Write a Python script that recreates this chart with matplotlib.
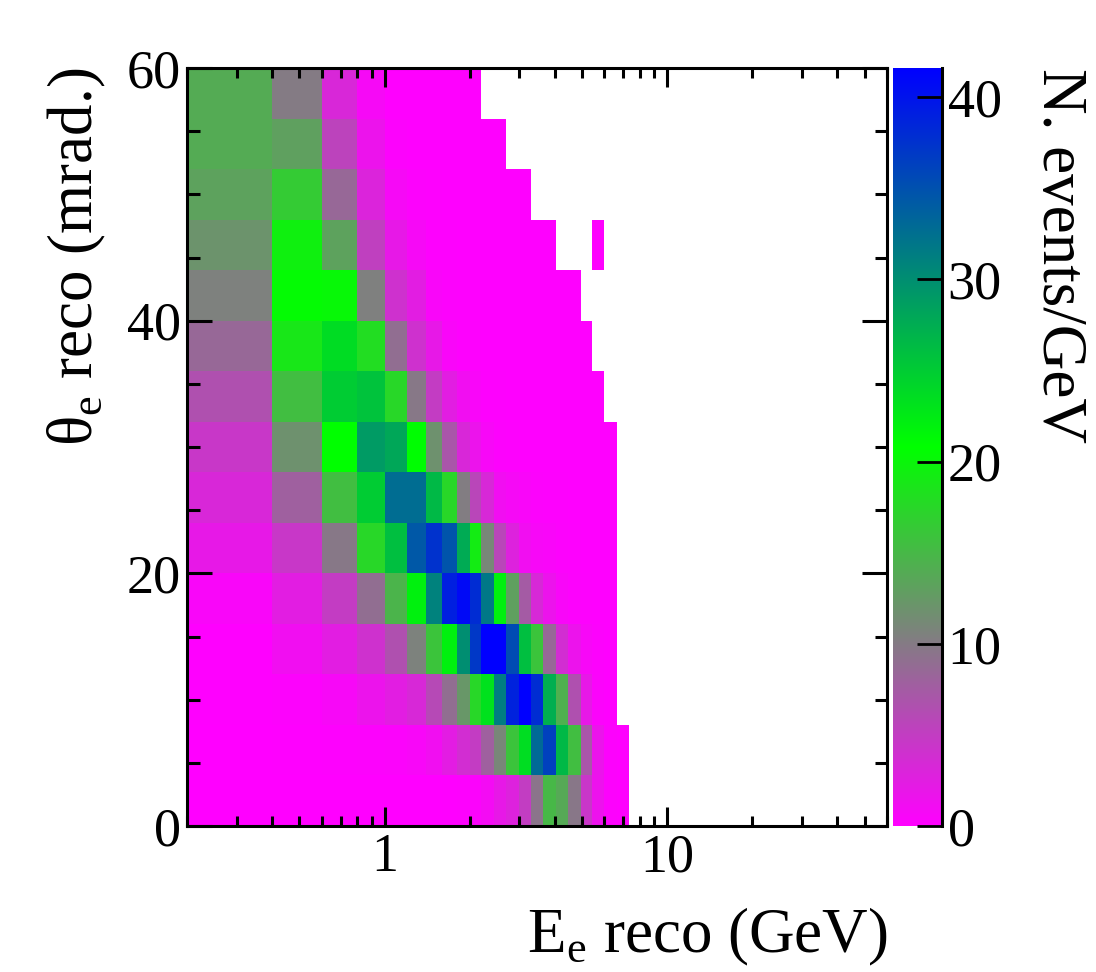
import numpy as np
import matplotlib
matplotlib.use("Agg")
import matplotlib.pyplot as plt
from matplotlib.colors import LinearSegmentedColormap
from matplotlib.ticker import LogLocator, FixedLocator, NullFormatter, FuncFormatter

plt.rcParams['font.family'] = ['Liberation Serif', 'DejaVu Serif']
plt.rcParams['mathtext.fontset'] = 'custom'
plt.rcParams['mathtext.rm'] = 'Liberation Serif'

# bin edges
e_edges = [0.2, 0.4, 0.6, 0.8, 1.0, 1.2, 1.4, 1.6, 1.8, 2.0, 2.2, 2.45, 2.7, 2.98, 3.31,
           3.65, 4.03, 4.47, 4.94, 5.44, 6.0, 6.67, 7.36]
theta_edges = [0, 4, 8, 12, 16, 20, 24, 28, 32, 36, 40, 44, 48, 52, 56, 60]
n = np.nan

# one row per theta bin, bottom to top
row_00 = [0.02, 0.02, 0.02, 0.02, 0.02, 0.03, 0.05, 0.1, 0.2, 0.4, 0.9, 2.0, 2.8, 5.0, 9.5, 15.0, 13.8, 9.7, 4.4, 1.5, 0.3, 0.1]
row_04 = [0.05, 0.1, 0.2, 0.3, 0.4, 0.6, 1.2, 2.3, 3.7, 4.9, 7.8, 11.0, 16.0, 23.6, 33.0, 36.3, 26.5, 15.5, 7.0, 1.7, 0.3, 0.1]
row_08 = [0.1, 0.3, 0.7, 1.6, 2.4, 3.3, 6.0, 9.0, 12.3, 17.5, 23.2, 31.4, 38.8, 41.6, 38.0, 27.3, 14.3, 6.5, 2.0, 0.4, 0.1, n]
row_12 = [0.1, 1.2, 2.4, 4.0, 6.5, 10.6, 16.0, 22.0, 30.0, 37.0, 41.6, 41.6, 35.5, 26.0, 16.0, 8.5, 3.7, 1.6, 0.7, 0.3, 0.1, n]
row_16 = [0.5, 2.4, 4.9, 9.0, 14.7, 22.0, 31.0, 39.0, 40.8, 38.0, 31.8, 22.0, 13.0, 7.4, 3.3, 1.6, 0.6, 0.3, 0.2, 0.1, 0.1, n]
row_20 = [2.0, 4.5, 9.8, 17.5, 26.0, 34.4, 37.5, 34.7, 27.7, 19.2, 11.0, 5.7, 2.8, 1.2, 0.7, 0.5, 0.3, 0.2, 0.1, 0.1, 0.1, n]
row_24 = [3.2, 7.8, 15.5, 25.0, 32.7, 32.7, 26.5, 17.5, 10.2, 5.7, 3.3, 1.2, 0.8, 0.5, 0.3, 0.2, 0.2, 0.1, 0.1, 0.1, 0.1, n]
row_28 = [4.5, 11.8, 20.8, 29.0, 28.0, 21.0, 11.8, 7.0, 3.2, 1.6, 0.7, 0.3, 0.2, 0.1, 0.1, 0.1, 0.1, 0.1, 0.1, 0.1, 0.1, n]
row_32 = [6.5, 15.5, 25.0, 25.7, 17.5, 9.8, 4.9, 2.4, 1.2, 0.5, 0.2, 0.2, 0.1, 0.1, 0.1, 0.1, 0.1, 0.1, 0.1, 0.1, n, n]
row_36 = [8.5, 18.8, 23.7, 18.0, 9.0, 4.0, 2.0, 0.5, 0.2, 0.2, 0.1, 0.1, 0.1, 0.1, 0.1, 0.1, 0.1, 0.1, 0.1, n, n, n]
row_40 = [10.5, 20.4, 20.2, 10.4, 4.0, 2.4, 0.5, 0.3, 0.2, 0.1, 0.1, 0.1, 0.1, 0.1, 0.1, 0.1, 0.1, 0.1, n, n, n, n]
row_44 = [12.0, 19.5, 13.2, 5.2, 2.0, 0.8, 0.2, 0.2, 0.1, 0.1, 0.1, 0.1, 0.1, 0.1, 0.1, 0.1, n, n, n, 0.1, n, n]
row_48 = [13.2, 16.5, 8.5, 3.0, 0.8, 0.3, 0.2, 0.1, 0.1, 0.1, 0.1, 0.1, 0.1, 0.1, n, n, n, n, n, n, n, n]
row_52 = [13.9, 13.0, 5.5, 1.6, 0.3, 0.1, 0.1, 0.1, 0.1, 0.1, 0.1, 0.1, n, n, n, n, n, n, n, n, n, n]
row_56 = [13.9, 10.0, 3.2, 0.8, 0.1, 0.1, 0.1, 0.1, 0.1, 0.1, n, n, n, n, n, n, n, n, n, n, n, n]

z = np.ma.masked_invalid(np.array([row_00, row_04, row_08, row_12, row_16, row_20, row_24, row_28,
                                   row_32, row_36, row_40, row_44, row_48, row_52, row_56]))

W, H = 1096, 972
fig = plt.figure(figsize=(W / 100, H / 100), dpi=100)
ax = fig.add_axes([187 / W, 1 - 826 / H, 700 / W, 758 / H])
cax = fig.add_axes([893 / W, 1 - 826 / H, 49 / W, 758 / H])

cmap = LinearSegmentedColormap.from_list('mgb', ['#ff00ff', '#00ff00', '#0000ff'], N=512)
mesh = ax.pcolormesh(e_edges, theta_edges, z, cmap=cmap, vmin=0, vmax=41.6, linewidth=0, rasterized=True)

ax.set_xscale('log')
ax.set_xlim(0.2, 60)
ax.set_ylim(0, 60)
ax.xaxis.set_major_locator(FixedLocator([1, 10]))
ax.xaxis.set_major_formatter(FuncFormatter(lambda v, p: '%d' % v))
ax.xaxis.set_minor_locator(LogLocator(base=10, subs=np.arange(2, 10), numticks=20))
ax.xaxis.set_minor_formatter(NullFormatter())
ax.set_yticks([0, 20, 40, 60])
ax.set_yticks(np.arange(0, 61, 5), minor=True)

for s in ax.spines.values():
    s.set_linewidth(2.2)
ax.tick_params(axis='x', which='major', direction='in', top=True, length=14, width=2.2, labelsize=39, pad=5)
ax.tick_params(axis='x', which='minor', direction='in', top=True, length=7, width=2.2)
ax.tick_params(axis='y', which='major', direction='in', right=True, length=18, width=2.2, labelsize=39, pad=4.5)
ax.tick_params(axis='y', which='minor', direction='in', right=True, length=9, width=2.2)

cb = fig.colorbar(mesh, cax=cax)
cb.outline.set_visible(False)
cb.set_ticks([0, 10, 20, 30, 40])
cb.ax.minorticks_off()
for name, s in cax.spines.items():
    s.set_visible(name == 'right')
    s.set_linewidth(2.2)
cax.tick_params(axis='y', direction='in', right=True, length=18, width=2.0, labelsize=39, pad=4)

fig.text(887 / W, 1 - 952 / H, r'E$_{\mathrm{e}}$ reco (GeV)', fontsize=45.4, ha='right', va='baseline')
fig.text(108 / W, 1 - 68 / H, r'θ$_{\mathrm{e}}$ reco (mrad.)', fontsize=45.4, rotation=90, ha='right', va='top')
fig.text(1058 / W, 1 - 68 / H, 'N. events/GeV', fontsize=45.4, rotation=270, ha='center', va='top')

fig.savefig('out.png', dpi=100)
